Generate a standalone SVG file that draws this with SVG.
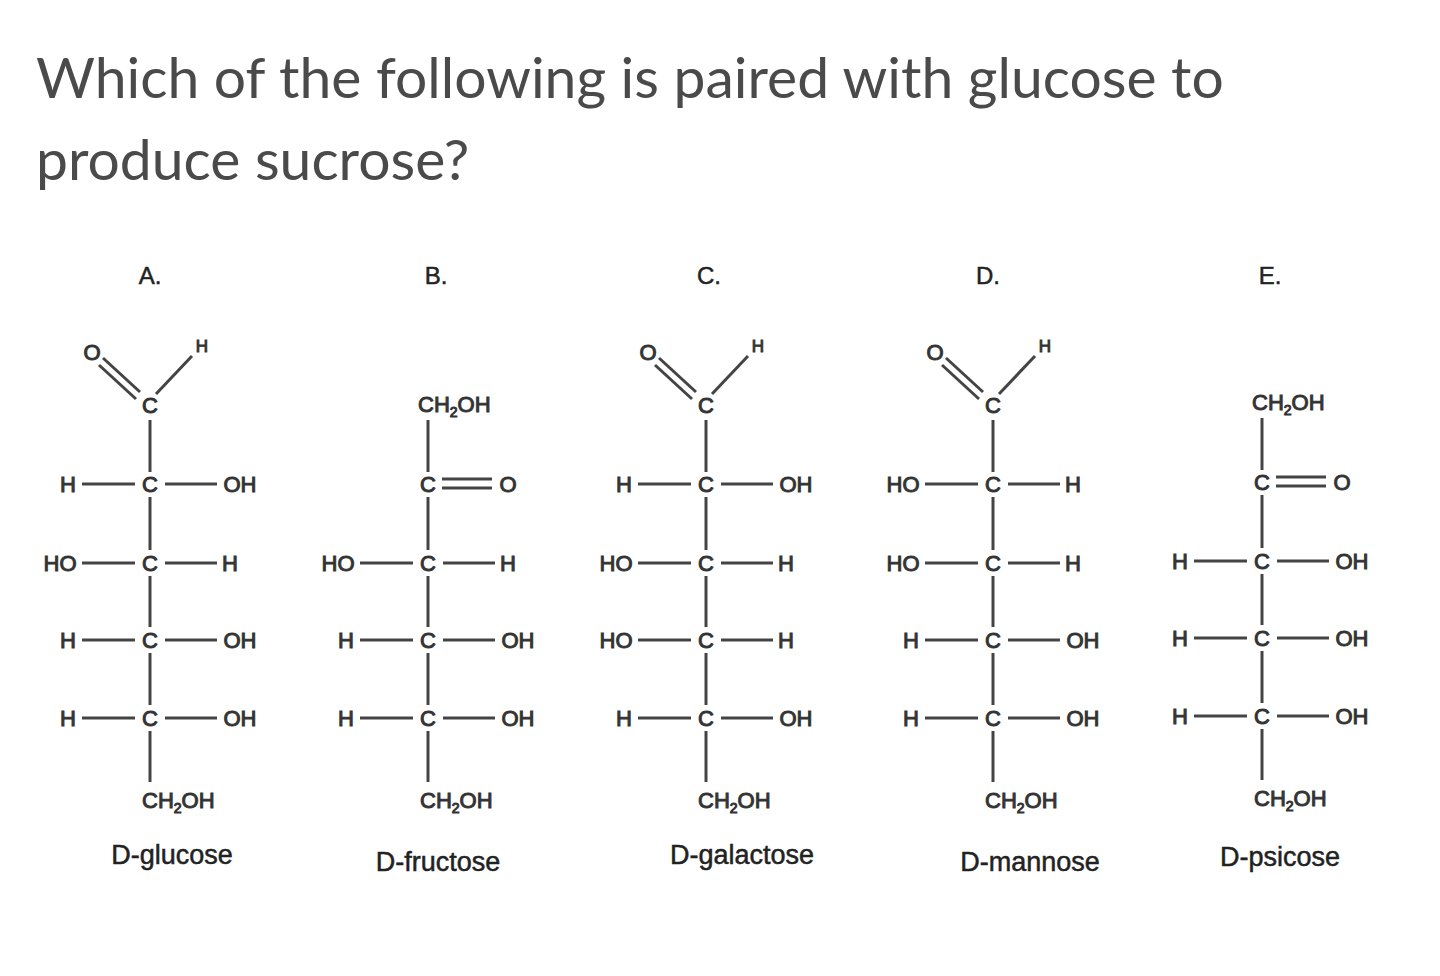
<svg xmlns="http://www.w3.org/2000/svg" width="1440" height="976" viewBox="0 0 1440 976">
<style>
.t{font-family:Lato,"Open Sans",sans-serif;font-size:57px;fill:#4a4a4a}
.a{font-family:"Liberation Sans",Arial,sans-serif;font-size:22px;fill:#333;stroke:#333;stroke-width:1}
.m{text-anchor:middle}
.s{font-size:14px}
.n{font-family:"Liberation Sans",Arial,sans-serif;font-size:27px;fill:#222;stroke:#222;stroke-width:0.5;text-anchor:middle}
line{stroke:#444;stroke-width:3}
</style>
<rect width="1440" height="976" fill="#fff"/>
<text class="t" x="36" y="98">Which of the following is paired with glucose to</text>
<text class="t" x="36" y="180">produce sucrose?</text>
<defs>
<g id="ald"><text class="a m" x="-58" y="360">O</text><text class="a m" x="52" y="352" style="font-size:17px">H</text><text class="a m" x="0" y="413">C</text>
<line x1="-47" y1="358" x2="-10" y2="392"/><line x1="-51" y1="365" x2="-14" y2="399"/><line x1="6" y1="394" x2="42" y2="356"/></g>
<g id="ket"><text class="a" x="-10" y="412">CH<tspan class="s" dy="5">2</tspan><tspan dy="-5">OH</tspan></text><text class="a m" x="0" y="492">C</text><text class="a m" x="80" y="492">O</text>
<line x1="14" y1="479" x2="64" y2="479"/><line x1="14" y1="488" x2="64" y2="488"/></g>
<g id="R"><text class="a m" x="-82" y="8">H</text><text class="a m" x="0" y="8">C</text><text class="a m" x="90" y="8">OH</text><line x1="-68" y1="0" x2="-15" y2="0"/><line x1="15" y1="0" x2="67" y2="0"/></g>
<g id="L"><text class="a m" x="-90" y="8">HO</text><text class="a m" x="0" y="8">C</text><text class="a m" x="80" y="8">H</text><line x1="-68" y1="0" x2="-15" y2="0"/><line x1="15" y1="0" x2="67" y2="0"/></g>
<g id="spine"><line x1="0" y1="420" x2="0" y2="472"/><line x1="0" y1="497" x2="0" y2="550"/><line x1="0" y1="576" x2="0" y2="627"/><line x1="0" y1="653" x2="0" y2="705"/><line x1="0" y1="731" x2="0" y2="782"/>
<text class="a" x="-8" y="808">CH<tspan class="s" dy="5">2</tspan><tspan dy="-5">OH</tspan></text></g>
</defs>
<g id="A" transform="translate(150,0)"><text class="n" x="0" y="284" style="font-size:24px">A.</text><use href="#ald"/><use href="#spine"/>
<use href="#R" y="484"/><use href="#L" y="563"/><use href="#R" y="640"/><use href="#R" y="718"/><text class="n" x="22" y="864">D-glucose</text></g>
<g id="B" transform="translate(428,0)"><text class="n" x="8" y="284" style="font-size:24px">B.</text><use href="#ket"/><use href="#spine"/>
<use href="#L" y="563"/><use href="#R" y="640"/><use href="#R" y="718"/><text class="n" x="10" y="871">D-fructose</text></g>
<g id="C" transform="translate(706,0)"><text class="n" x="3" y="284" style="font-size:24px">C.</text><use href="#ald"/><use href="#spine"/>
<use href="#R" y="484"/><use href="#L" y="563"/><use href="#L" y="640"/><use href="#R" y="718"/><text class="n" x="36" y="864">D-galactose</text></g>
<g id="D" transform="translate(993,0)"><text class="n" x="-5" y="284" style="font-size:24px">D.</text><use href="#ald"/><use href="#spine"/>
<use href="#L" y="484"/><use href="#L" y="563"/><use href="#R" y="640"/><use href="#R" y="718"/><text class="n" x="37" y="871">D-mannose</text></g>
<g id="E" transform="translate(1262,-2)"><text class="n" x="8" y="286" style="font-size:24px">E.</text><use href="#ket"/><use href="#spine"/>
<use href="#R" y="563"/><use href="#R" y="640"/><use href="#R" y="718"/><text class="n" x="18" y="868">D-psicose</text></g>
</svg>
